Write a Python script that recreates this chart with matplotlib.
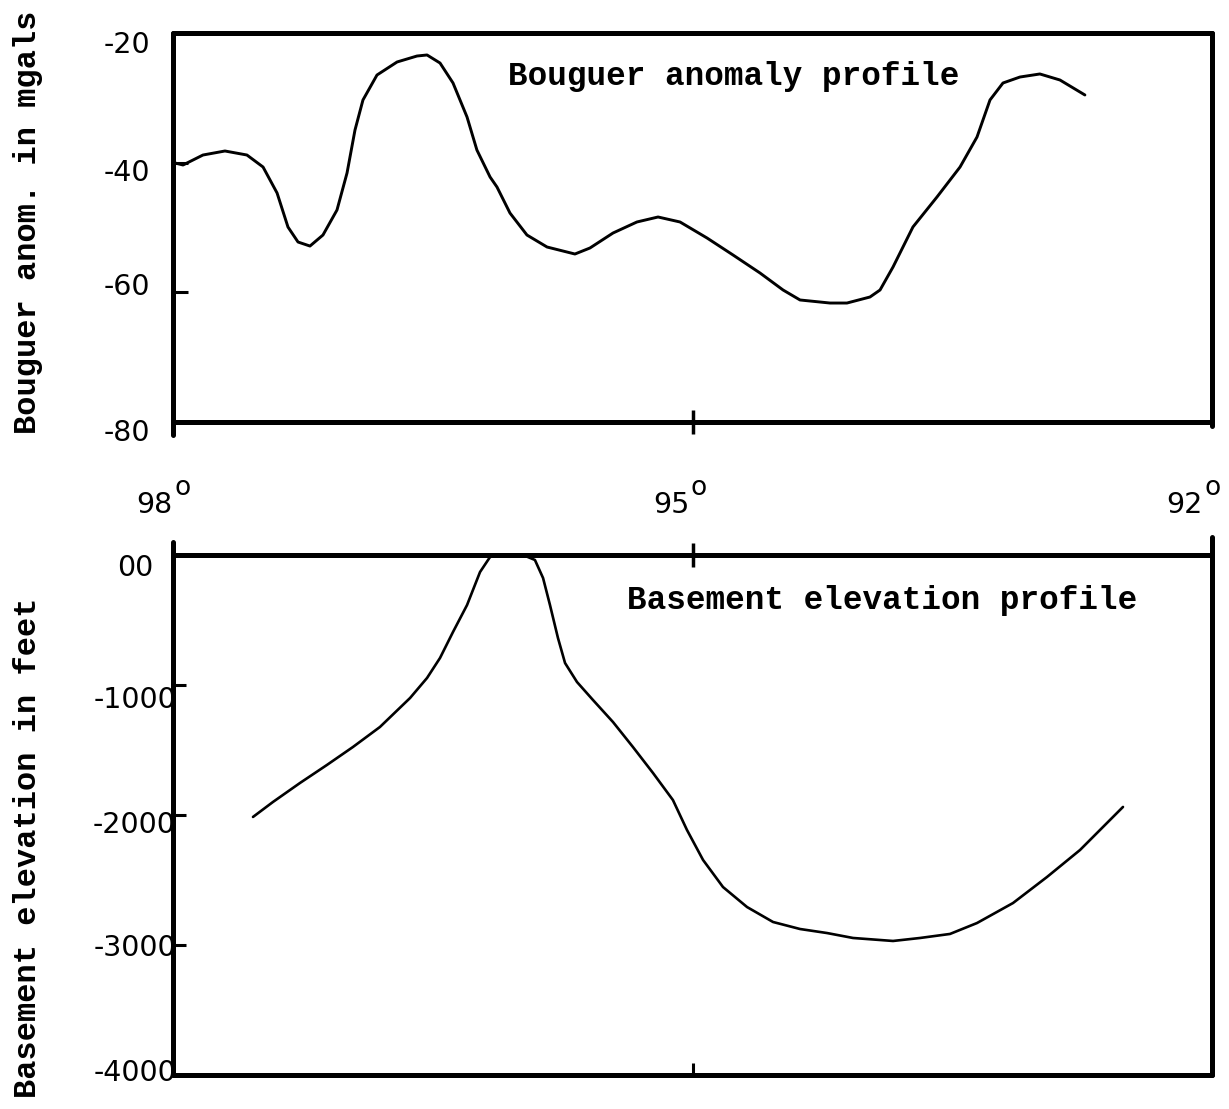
import matplotlib
matplotlib.use("Agg")
import matplotlib.pyplot as plt
from matplotlib.lines import Line2D
from matplotlib.transforms import blended_transform_factory, offset_copy

# ---- data -------------------------------------------------------------
# Bouguer anomaly profile (longitude in degrees W, anomaly in mgals)
bouguer_lon = [97.988, 97.942, 97.827, 97.700, 97.573, 97.480, 97.399, 97.336,
               97.278, 97.209, 97.134, 97.053, 96.995, 96.949, 96.903, 96.822,
               96.706, 96.591, 96.533, 96.458, 96.383, 96.302, 96.245, 96.169,
               96.129, 96.054, 95.956, 95.840, 95.679, 95.592, 95.459, 95.321,
               95.199, 95.072, 94.916, 94.766, 94.610, 94.477, 94.379, 94.206,
               94.108, 93.975, 93.917, 93.842, 93.727, 93.588, 93.455, 93.357,
               93.282, 93.207, 93.109, 92.994, 92.878, 92.734]
bouguer_mgal = [-40.05, -40.36, -38.82, -38.20, -38.82, -40.67, -44.68, -49.93,
                -52.24, -52.86, -51.16, -47.30, -41.59, -34.96, -30.33, -26.48,
                -24.47, -23.55, -23.39, -24.63, -27.71, -32.96, -38.05, -42.21,
                -43.76, -47.77, -51.16, -53.01, -54.09, -53.16, -50.85, -49.15,
                -48.38, -49.15, -51.62, -54.24, -57.02, -59.64, -61.18, -61.65,
                -61.65, -60.72, -59.64, -56.09, -49.92, -45.29, -40.67, -36.04,
                -30.33, -27.71, -26.79, -26.32, -27.25, -29.56]

# Basement elevation profile (feet)
basement_lon = [97.538, 97.423, 97.267, 97.111, 96.961, 96.805, 96.631, 96.533,
                96.458, 96.383, 96.302, 96.227, 96.169, 96.112, 95.979, 95.910,
                95.863, 95.823, 95.777, 95.736, 95.667, 95.575, 95.459, 95.344,
                95.228, 95.113, 95.032, 94.939, 94.824, 94.685, 94.535, 94.379,
                94.223, 94.073, 93.842, 93.686, 93.513, 93.357, 93.149, 92.953,
                92.762, 92.514]
basement_ft = [-2015, -1900, -1754, -1615, -1477, -1323, -1100, -946,
               -792, -592, -385, -131, -15, 0, 0, -38,
               -177, -385, -638, -831, -977, -1115, -1285, -1477,
               -1677, -1885, -2115, -2346, -2554, -2708, -2823, -2877,
               -2908, -2946, -2969, -2946, -2915, -2831, -2677, -2477,
               -2269, -1938]

lon_ticks = [98, 95, 92]
lon_labels = ["98", "95", "92"]
bouguer_ticks = [-20, -40, -60, -80]
bouguer_labels = ["-20", "-40", "-60", "-80"]
basement_ticks = [0, -1000, -2000, -3000, -4000]
basement_labels = ["00", "-1000", "-2000", "-3000", "-4000"]

# ---- styling ----------------------------------------------------------
MONO = "Liberation Mono"
NUM = "DejaVu Sans"
SPINE_W = 3.6

W, H = 1229, 1109
fig = plt.figure(figsize=(W / 100, H / 100), dpi=100)
ax1 = fig.add_axes([173 / W, 1 - 422 / H, 1039 / W, 389 / H])
ax2 = fig.add_axes([173 / W, 1 - 1075 / H, 1039 / W, 520 / H])

for ax in (ax1, ax2):
    ax.set_xlim(98, 92)
    for sp in ax.spines.values():
        sp.set_linewidth(SPINE_W)
        sp.set_capstyle("round")
    ax.yaxis.set_tick_params(labelleft=False)
    ax.xaxis.set_tick_params(labelbottom=False, labeltop=False)

ax1.set_ylim(-80, -20)
ax2.set_ylim(-4000, 0)

# curves
ax1.plot(bouguer_lon, bouguer_mgal, color="black", lw=2.1,
         solid_joinstyle="round", solid_capstyle="round")
ax2.plot(basement_lon, basement_ft, color="black", lw=1.9,
         solid_joinstyle="round", solid_capstyle="round")

# ticks
ax1.set_yticks([-40, -60])
ax1.tick_params(axis="y", direction="in", length=11, width=2.2)
ax1.set_xticks([95])
ax1.tick_params(axis="x", direction="inout", length=17, width=2.5)

ax2.set_yticks([-1000, -2000, -3000])
ax2.tick_params(axis="y", direction="in", length=9, width=2.2)
ax2.xaxis.remove_overlapping_locs = False
ax2.set_xticks([95])
ax2.set_xticks([95], minor=True)
ax2.tick_params(axis="x", which="major", direction="inout", length=17,
                width=2.5, top=True, bottom=False)
ax2.tick_params(axis="x", which="minor", direction="in", length=9,
                width=2.2, top=False, bottom=True)

# slight overshoot of the hand-drawn frame corners
def frame_stub(ax, x, y0, y1):
    ax.add_line(Line2D([x, x], [y0, y1], transform=ax.transAxes, color="black",
                       lw=SPINE_W, clip_on=False, solid_capstyle="round"))

frame_stub(ax1, 0, 0, -13 / 389)
frame_stub(ax1, 1, 0, -4 / 389)
frame_stub(ax2, 0, 1, 1 + 13 / 520)
frame_stub(ax2, 1, 1, 1 + 18 / 520)

# y tick labels
def ylabels(ax, vals, labs, dxs, dys):
    base = blended_transform_factory(ax.transAxes, ax.transData)
    for v, s, dx, dy in zip(vals, labs, dxs, dys):
        tr = offset_copy(base, fig=fig, x=dx, y=-dy, units="dots")
        ax.text(0, v, s, transform=tr, ha="right", va="center",
                fontsize=20.5, family=NUM, clip_on=False)

ylabels(ax1, bouguer_ticks, bouguer_labels, [-23] * 4, [12, 10, -5, 11])
ylabels(ax2, basement_ticks, basement_labels, [-20, 3, 3, 3, 3],
        [13, 15, 10, 3, -2])

# longitude labels between the panels, with a raised "o" degree mark
xbase = blended_transform_factory(ax1.transData, ax1.transAxes)
for v, s, dx in zip(lon_ticks, lon_labels, [0, -3, -9]):
    tr = offset_copy(xbase, fig=fig, x=dx, y=-91, units="dots")
    ax1.text(v, 0, s, transform=tr, ha="right", va="baseline",
             fontsize=20.5, family=NUM, clip_on=False)
    tr_o = offset_copy(xbase, fig=fig, x=dx + 1, y=-73, units="dots")
    ax1.text(v, 0, "o", transform=tr_o, ha="left", va="baseline",
             fontsize=19, family=NUM, clip_on=False)

# panel titles
ax1.text((508 - 173) / 1039, (422 - 77) / 389, "Bouguer anomaly profile",
         transform=ax1.transAxes, ha="left", va="center",
         fontsize=23.5, family=MONO, fontweight="bold")
ax2.text((627 - 173) / 1039, (1075 - 600) / 520, "Basement elevation profile",
         transform=ax2.transAxes, ha="left", va="center",
         fontsize=23.5, family=MONO, fontweight="bold")

# axis titles
fig.text(28 / W, 1 - 222 / H, "Bouguer anom. in mgals", rotation=90,
         ha="center", va="center", fontsize=23, family=MONO, fontweight="bold")
fig.text(28 / W, 1 - 848 / H, "Basement elevation in feet", rotation=90,
         ha="center", va="center", fontsize=23, family=MONO, fontweight="bold")

fig.savefig("out.png", dpi=100, facecolor="white")
